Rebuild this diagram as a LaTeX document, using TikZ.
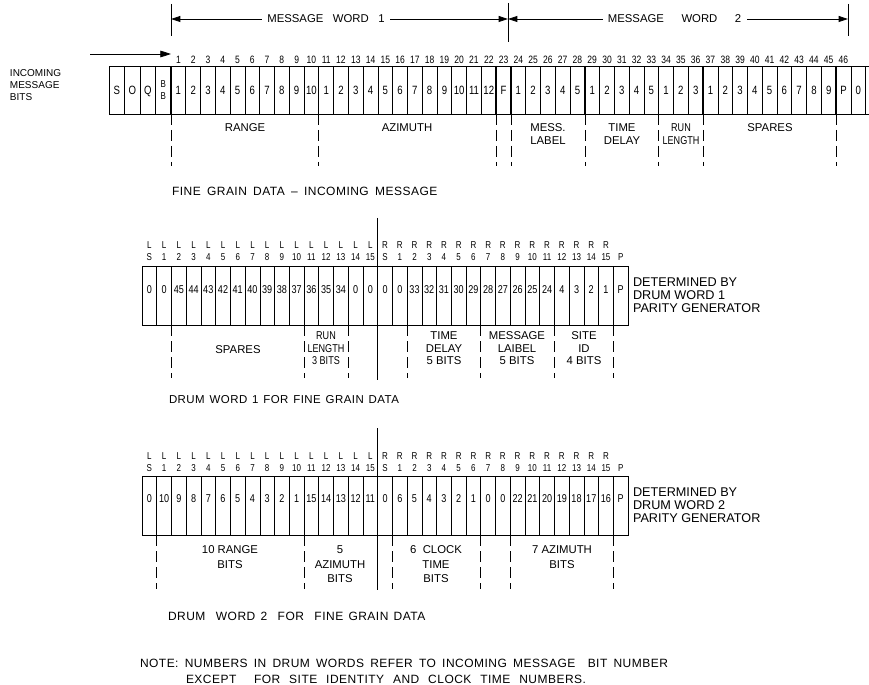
\documentclass[tikz,border=0pt]{standalone}
\usepackage{fontspec}
\setmainfont{Liberation Sans}
\newfontfamily\cond{Liberation Sans}[FakeStretch=0.8]
\newfontfamily\wide{Liberation Sans}[LetterSpace=4]
\usetikzlibrary{arrows.meta}
\begin{document}
\begin{tikzpicture}[x=0.75pt,y=-0.75pt,
  every node/.style={inner sep=0pt, outer sep=0pt},
  tcell/.style={draw, line width=0.5pt, minimum width=11.085pt, minimum height=36pt, text height=6.5pt, text depth=0pt, font=\cond\fontsize{9}{9}\selectfont},
  pcell/.style={draw, line width=0.5pt, minimum width=11.625pt, minimum height=36pt, text height=6.5pt, text depth=0pt, font=\cond\fontsize{9}{9}\selectfont},
  dcell/.style={draw, line width=0.5pt, minimum width=11.05pt, minimum height=44.25pt},
  dnum/.style={text height=6pt, text depth=0pt, font=\cond\fontsize{8.5}{9}\selectfont},
  hnum/.style={text height=5.8pt, text depth=0pt, font=\cond\fontsize{8}{8}\selectfont},
  hdr/.style={text height=5.4pt, text depth=0pt, font=\cond\fontsize{7.5}{8}\selectfont},
  lbl/.style={font=\fontsize{8.5}{9.75}\selectfont, align=center},
  capt/.style={font=\wide\fontsize{9}{10}\selectfont, anchor=west},
  dl/.style={line width=0.5pt, dash pattern=on 8pt off 4pt},
  heavy/.style={line width=1pt},
  dim/.style={line width=0.6pt, {Triangle[length=7pt,width=4.5pt]}-{Triangle[length=7pt,width=4.5pt]}},
]
\useasboundingbox (0,0) rectangle (869,685);

% ---------------- MESSAGE WORD dimensions ----------------
\coordinate (mwa) at (171,19);
\coordinate (mwb) at (508,19);
\coordinate (mwc) at (848,19);
\draw[line width=0.6pt] (171,4) coordinate (ba1) -- (171,36) coordinate (ba2);
\draw[line width=0.6pt] (508,3) coordinate (bb1) -- (508,42) coordinate (bb2);
\draw[line width=0.6pt] (848,4) coordinate (bc1) -- (848,36) coordinate (bc2);
\draw[dim] (mwa) -- (mwb) node[pos=0.46, fill=white, inner xsep=4pt, font=\fontsize{8.5}{10}\selectfont] (mw1) {\makebox[88pt][s]{MESSAGE\ \ WORD\ \ 1}};
\draw[dim] (mwb) -- (mwc) node[pos=0.49, fill=white, inner xsep=4pt, font=\fontsize{8.5}{10}\selectfont] (mw2) {\makebox[100pt][s]{MESSAGE WORD 2}};

% ---------------- incoming message register ----------------
\node[font=\fontsize{7.5}{9.2}\selectfont, align=left, anchor=west] (inc) at (10,85) {INCOMING\\MESSAGE\\BITS};
\foreach \lab [count=\i] in {S,O,Q} {
  \pgfmathsetmacro\cx{109+15.5*(\i-0.5)}
  \node[pcell] (p\i) at (\cx,90) {\lab};
}
\node[draw, line width=0.5pt, minimum width=11.625pt, minimum height=36pt, font=\cond\fontsize{7.5}{9}\selectfont, align=center] (p4) at (163.25,90) {B\\B};
\foreach \lab [count=\i] in {1,2,3,4,5,6,7,8,9,10,1,2,3,4,5,6,7,8,9,10,11,12,F,1,2,3,4,5,1,2,3,4,5,1,2,3,1,2,3,4,5,6,7,8,9,P,0} {
  \pgfmathsetmacro\cx{171+14.78*(\i-0.5)}
  \node[tcell] (t\i) at (\cx,90) {\lab};
  \ifnum\i<47 \node[hnum] (h\i) at (\cx,60) {\i}; \fi
}
\coordinate (tendA) at (869,66);
\coordinate (tendB) at (869,114);
\draw[line width=0.5pt] (t47.north east) -- (tendA);
\draw[line width=0.5pt] (t47.south east) -- (tendB);
\foreach \k in {10,22,23,28,33,36,45} { \draw[heavy] (t\k.north east) -- (t\k.south east); }
\draw[heavy] (t1.north west) -- (t1.south west);
\coordinate (inA) at (90,54);
\coordinate (inB) at (171,54);
\draw[line width=0.6pt, -{Triangle[length=8pt,width=5pt]}] (inA) -- (inB);

% dashed boundaries below incoming register
\draw[dl] (t1.south west) -- ++(0,52);
\foreach \k in {10,22,23,28,33,36,45} { \draw[dl] (t\k.south east) -- ++(0,52); }
\node[lbl, anchor=north] (lr) at (245,124) {RANGE};
\node[lbl, anchor=north] (la) at (407,124) {AZIMUTH};
\node[lbl, anchor=north] (lm) at (548,124) {MESS.\\LABEL};
\node[lbl, anchor=north] (lt) at (622,124) {TIME\\DELAY};
\node[lbl, anchor=north, font=\cond\fontsize{8.5}{9.75}\selectfont] (lrl) at (681,124) {RUN\\LENGTH};
\node[lbl, anchor=north] (ls) at (770,124) {SPARES};
\node[capt] (cap0) at (172,191) {\makebox[199pt][s]{FINE GRAIN DATA – INCOMING MESSAGE}};

% ---------------- DRUM WORD 1 ----------------
\foreach \lab [count=\i from 0] in {0,0,45,44,43,42,41,40,39,38,37,36,35,34,0,0,0,0,33,32,31,30,29,28,27,26,25,24,4,3,2,1,P} {
  \pgfmathsetmacro\cx{142+14.73*(\i+0.5)}
  \node[dcell] (a\i) at (\cx,295.5) {};
  \node[dnum] (an\i) at (\cx,289) {\lab};
}
\foreach \tp/\bt [count=\i from 0] in {L/S,L/1,L/2,L/3,L/4,L/5,L/6,L/7,L/8,L/9,L/10,L/11,L/12,L/13,L/14,L/15,R/S,R/1,R/2,R/3,R/4,R/5,R/6,R/7,R/8,R/9,R/10,R/11,R/12,R/13,R/14,R/15} {
  \pgfmathsetmacro\cx{142+14.73*(\i+0.5)}
  \node[hdr] (ah\i) at (\cx,245) {\tp};
  \node[hdr] (ab\i) at (\cx,257) {\bt};
}
\node[hdr] (ab32) at (a32|-ab0) {P};
\coordinate (c1top) at (377.7,218);
\coordinate (c1bot) at (377.7,380);
\draw[line width=1pt] (c1top) -- (c1bot);
\node[lbl, align=left, anchor=west, font=\fontsize{9.5}{9.75}\selectfont] (det1) at (633,295) {DETERMINED BY\\DRUM WORD 1\\PARITY GENERATOR};
\foreach \k in {2,11,14,18,23,28,32} { \draw[dl] (a\k.south west) -- ++(0,53); }
\node[lbl] (s1) at (238,350) {SPARES};
\node[lbl, anchor=north, font=\cond\fontsize{8.5}{9.4}\selectfont] (s2) at (326,332) {RUN\\LENGTH\\3 BITS};
\node[lbl, anchor=north, font=\fontsize{8.5}{9.4}\selectfont] (s3) at (444,332) {TIME\\DELAY\\5 BITS};
\node[lbl, anchor=north, font=\fontsize{8.5}{9.4}\selectfont] (s4) at (517,332) {MESSAGE\\LAIBEL\\5 BITS};
\node[lbl, anchor=north, font=\fontsize{8.5}{9.4}\selectfont] (s5) at (584,332) {SITE\\ID\\4 BITS};
\node[capt, font=\wide\fontsize{8.6}{10}\selectfont] (cap1) at (169,400) {\makebox[164pt][s]{DRUM\ \ WORD\ \ 1\ \ FOR\ \ FINE\ \ GRAIN\ \ DATA}};

% ---------------- DRUM WORD 2 ----------------
\foreach \lab [count=\i from 0] in {0,10,9,8,7,6,5,4,3,2,1,15,14,13,12,11,0,6,5,4,3,2,1,0,0,22,21,20,19,18,17,16,P} {
  \pgfmathsetmacro\cx{142+14.73*(\i+0.5)}
  \node[dcell] (b\i) at (\cx,505.5) {};
  \node[dnum] (bn\i) at (\cx,498) {\lab};
}
\foreach \tp/\bt [count=\i from 0] in {L/S,L/1,L/2,L/3,L/4,L/5,L/6,L/7,L/8,L/9,L/10,L/11,L/12,L/13,L/14,L/15,R/S,R/1,R/2,R/3,R/4,R/5,R/6,R/7,R/8,R/9,R/10,R/11,R/12,R/13,R/14,R/15} {
  \pgfmathsetmacro\cx{142+14.73*(\i+0.5)}
  \node[hdr] (bh\i) at (\cx,456) {\tp};
  \node[hdr] (bb\i) at (\cx,468) {\bt};
}
\node[hdr] (bb32) at (b32|-bb0) {P};
\coordinate (c2top) at (377.7,428);
\coordinate (c2bot) at (377.7,590);
\draw[line width=1pt] (c2top) -- (c2bot);
\node[lbl, align=left, anchor=west, font=\fontsize{9.5}{9.75}\selectfont] (det2) at (633,505) {DETERMINED BY\\DRUM WORD 2\\PARITY GENERATOR};
\foreach \k in {1,11,17,23,25,32} { \draw[dl] (b\k.south west) -- ++(0,54); }
\node[lbl, anchor=north, font=\fontsize{8.5}{10.8}\selectfont] (u1) at (230,546) {10 RANGE\\BITS};
\node[lbl, anchor=north, font=\fontsize{8.5}{10.8}\selectfont] (u2) at (340,546) {5\\AZIMUTH\\BITS};
\node[lbl, anchor=north, font=\fontsize{8.5}{10.8}\selectfont] (u3) at (436,546) {6\ \ CLOCK\\TIME\\BITS};
\node[lbl, anchor=north, font=\fontsize{8.5}{10.8}\selectfont] (u4) at (562,546) {7 AZIMUTH\\BITS};
\node[capt] (cap2) at (168,616) {\makebox[193pt][s]{DRUM\ \ WORD 2\ \ FOR\ \ FINE GRAIN DATA}};

% ---------------- NOTE ----------------
\node[capt] (n1) at (140,663) {\makebox[396pt][s]{NOTE: NUMBERS IN DRUM WORDS REFER TO INCOMING MESSAGE\ \ BIT NUMBER}};
\node[capt] (n2) at (186,679) {\makebox[300pt][s]{EXCEPT\ \ FOR SITE IDENTITY AND CLOCK TIME NUMBERS.}};
\end{tikzpicture}
\end{document}
